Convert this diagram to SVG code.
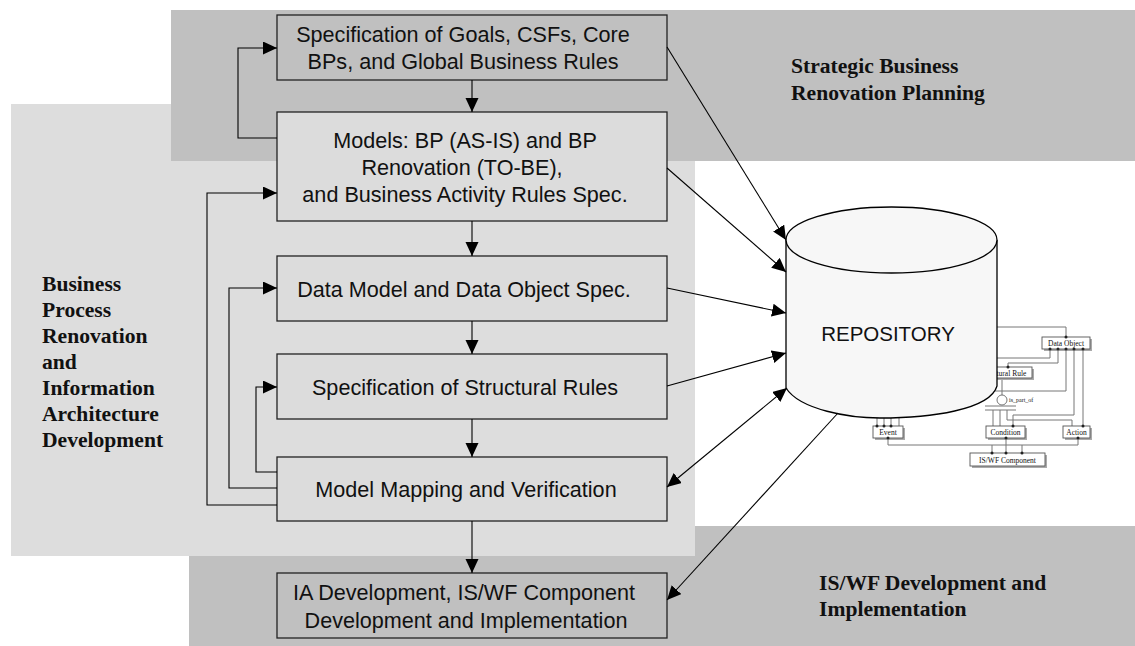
<svg xmlns="http://www.w3.org/2000/svg" width="1135" height="646" viewBox="0 0 1135 646">
<defs>
<marker id="ah" markerUnits="userSpaceOnUse" markerWidth="15" markerHeight="14" refX="14" refY="6.5" orient="auto-start-reverse">
<path d="M0,0 L14,6.5 L0,13 z" fill="#000"/>
</marker>
</defs>
<style>
.box{stroke:#222;stroke-width:1.3}
.dk{fill:#c0c0c0}
.lt{fill:#dcdcdc}
.bt{font-family:"Liberation Sans",Arial,sans-serif;font-size:21.6px;fill:#111;text-anchor:middle}
.lbl{font-family:"Liberation Serif","Times New Roman",serif;font-weight:bold;font-size:21.6px;fill:#111}
.con{fill:none;stroke:#000;stroke-width:1.1}
.arr{marker-end:url(#ah)}
.er{fill:none;stroke:#777;stroke-width:1}
.erb{fill:#fff;stroke:#555;stroke-width:0.9}
.ers{fill:#aaa}
.ert{font-family:"Liberation Serif","Times New Roman",serif;font-size:7.5px;fill:#111;text-anchor:middle}
.dot{fill:#222}
</style>

<!-- background regions -->
<g id="bands">
<rect x="189" y="526" width="946" height="120" fill="#c0c0c0"/>
<rect x="11" y="104" width="684" height="452" fill="#dddddd"/>
<rect x="171" y="10" width="964" height="151" fill="#c0c0c0"/>
</g>

<!-- region labels -->
<g id="label-strategic">
<text class="lbl" x="791" y="73">Strategic Business</text>
<text class="lbl" x="791" y="100">Renovation Planning</text>
</g>
<g id="label-bpr">
<text class="lbl" x="42" y="291">Business</text>
<text class="lbl" x="42" y="317">Process</text>
<text class="lbl" x="42" y="343">Renovation</text>
<text class="lbl" x="42" y="369">and</text>
<text class="lbl" x="42" y="395">Information</text>
<text class="lbl" x="42" y="421">Architecture</text>
<text class="lbl" x="42" y="447">Development</text>
</g>
<g id="label-iswf">
<text class="lbl" x="819" y="590">IS/WF Development and</text>
<text class="lbl" x="819" y="616">Implementation</text>
</g>

<!-- process boxes -->
<g id="n-goals">
<rect class="box dk" x="277" y="15" width="390" height="65"/>
<text class="bt" x="463" y="42">Specification of Goals, CSFs, Core</text>
<text class="bt" x="463" y="69">BPs, and Global Business Rules</text>
</g>
<g id="n-models">
<rect class="box lt" x="277" y="112" width="390" height="109"/>
<text class="bt" x="465" y="148">Models: BP (AS-IS) and BP</text>
<text class="bt" x="462" y="175">Renovation (TO-BE),</text>
<text class="bt" x="465" y="202">and Business Activity Rules Spec.</text>
</g>
<g id="n-data">
<rect class="box lt" x="277" y="256" width="390" height="65"/>
<text class="bt" x="464" y="297">Data Model and Data Object Spec.</text>
</g>
<g id="n-struct">
<rect class="box lt" x="277" y="354" width="390" height="65"/>
<text class="bt" x="465" y="395">Specification of Structural Rules</text>
</g>
<g id="n-mapping">
<rect class="box lt" x="277" y="457" width="390" height="64"/>
<text class="bt" x="466" y="497">Model Mapping and Verification</text>
</g>
<g id="n-ia">
<rect class="box dk" x="277" y="573" width="390" height="65"/>
<text class="bt" x="464" y="600">IA Development, IS/WF Component</text>
<text class="bt" x="466" y="628">Development and Implementation</text>
</g>

<!-- small embedded ER sketch -->
<g id="er-sketch">
<g class="er">
<path d="M1066,337 V327 H990"/>
<path d="M1050,349 V358 H990"/>
<path d="M1058,349 V363 H1008 V367"/>
<path d="M1066,349 V391 H990"/>
<path d="M1074,349 V415 H1013 V426"/>
<path d="M1083,349 V426"/>
<path d="M1002,378 V395"/>
<path d="M985,406 H1016 M985,410 H1016"/>
<path d="M993,410 V426 M1000,410 V426"/>
<path d="M1007,410 V420 H1072 V426"/>
<path d="M899,426 V405"/>
<path d="M877,426 V405 M884,426 V405 M891,426 V405"/>
<path d="M888,438 V445 H1078 V438"/>
<path d="M992,445 V453 M1022,445 V453 M1006,438 V453"/>
</g>
<rect class="ers" x="1044" y="339" width="48" height="12"/>
<rect class="erb" x="1042" y="337" width="48" height="12"/>
<text class="ert" x="1066" y="346">Data Object</text>
<rect class="ers" x="977" y="369" width="57" height="11"/>
<rect class="erb" x="975" y="367" width="57" height="11"/>
<text class="ert" x="1003.5" y="375.5">Structural Rule</text>
<circle cx="1002" cy="400" r="5" fill="#fff" stroke="#666" stroke-width="0.9"/>
<text class="ert" x="1009" y="402" style="text-anchor:start;font-size:6px">is_part_of</text>
<rect class="ers" x="875" y="428" width="30" height="12"/>
<rect class="erb" x="873" y="426" width="30" height="12"/>
<text class="ert" x="888" y="435">Event</text>
<rect class="ers" x="988" y="428" width="39" height="12"/>
<rect class="erb" x="986" y="426" width="39" height="12"/>
<text class="ert" x="1005.5" y="435">Condition</text>
<rect class="ers" x="1065" y="428" width="27" height="12"/>
<rect class="erb" x="1063" y="426" width="27" height="12"/>
<text class="ert" x="1076.5" y="435">Action</text>
<rect class="ers" x="972" y="455" width="75" height="13"/>
<rect class="erb" x="970" y="453" width="75" height="13"/>
<text class="ert" x="1007.5" y="462.5">IS/WF Component</text>
<g class="dot">
<circle cx="1066" cy="337" r="1.5"/>
<circle cx="1050" cy="349" r="1.5"/><circle cx="1058" cy="349" r="1.5"/><circle cx="1066" cy="349" r="1.5"/><circle cx="1074" cy="349" r="1.5"/><circle cx="1083" cy="349" r="1.5"/>
<circle cx="1008" cy="367" r="1.5"/>
<circle cx="1013" cy="426" r="1.5"/><circle cx="1083" cy="426" r="1.5"/>
<circle cx="877" cy="426" r="1.5"/><circle cx="884" cy="426" r="1.5"/><circle cx="891" cy="426" r="1.5"/>
<circle cx="888" cy="438" r="1.5"/><circle cx="1006" cy="438" r="1.5"/><circle cx="1078" cy="438" r="1.5"/>
<circle cx="992" cy="453" r="1.5"/><circle cx="1006" cy="453" r="1.5"/><circle cx="1022" cy="453" r="1.5"/>
</g>
</g>

<!-- repository -->
<g id="n-repository">
<path d="M786,240 V388 C800,410 850,418 880,418 C930,418 990,410 997,386 V240" fill="#f7f7f7" stroke="#000" stroke-width="1.3"/>
<ellipse cx="891.5" cy="240" rx="105.5" ry="33" fill="#f7f7f7" stroke="#000" stroke-width="1.3"/>
<text x="888" y="341" style="font-family:'Liberation Sans',Arial,sans-serif;font-size:20.5px;fill:#111;text-anchor:middle">REPOSITORY</text>
</g>

<!-- connectors -->
<g id="connectors">
<path class="con arr" d="M472,80 V112"/>
<path class="con arr" d="M472,221 V256"/>
<path class="con arr" d="M472,321 V354"/>
<path class="con arr" d="M472,419 V457"/>
<path class="con arr" d="M472,521 V573"/>
<path class="con arr" d="M277,138 H238 V48 H277"/>
<path class="con arr" d="M277,505 H207 V193 H277"/>
<path class="con arr" d="M277,488 H229 V288 H277"/>
<path class="con arr" d="M277,472 H256 V387 H277"/>
<path class="con arr" d="M667,47 L786,240"/>
<path class="con arr" d="M667,168 L786,272"/>
<path class="con arr" d="M667,288 L786,313"/>
<path class="con arr" d="M667,386 L786,353"/>
<path class="con arr" d="M667,487 L787,388" style="marker-start:url(#ah)"/>
<path class="con arr" d="M838,413 L667,600"/>
</g>
</svg>
